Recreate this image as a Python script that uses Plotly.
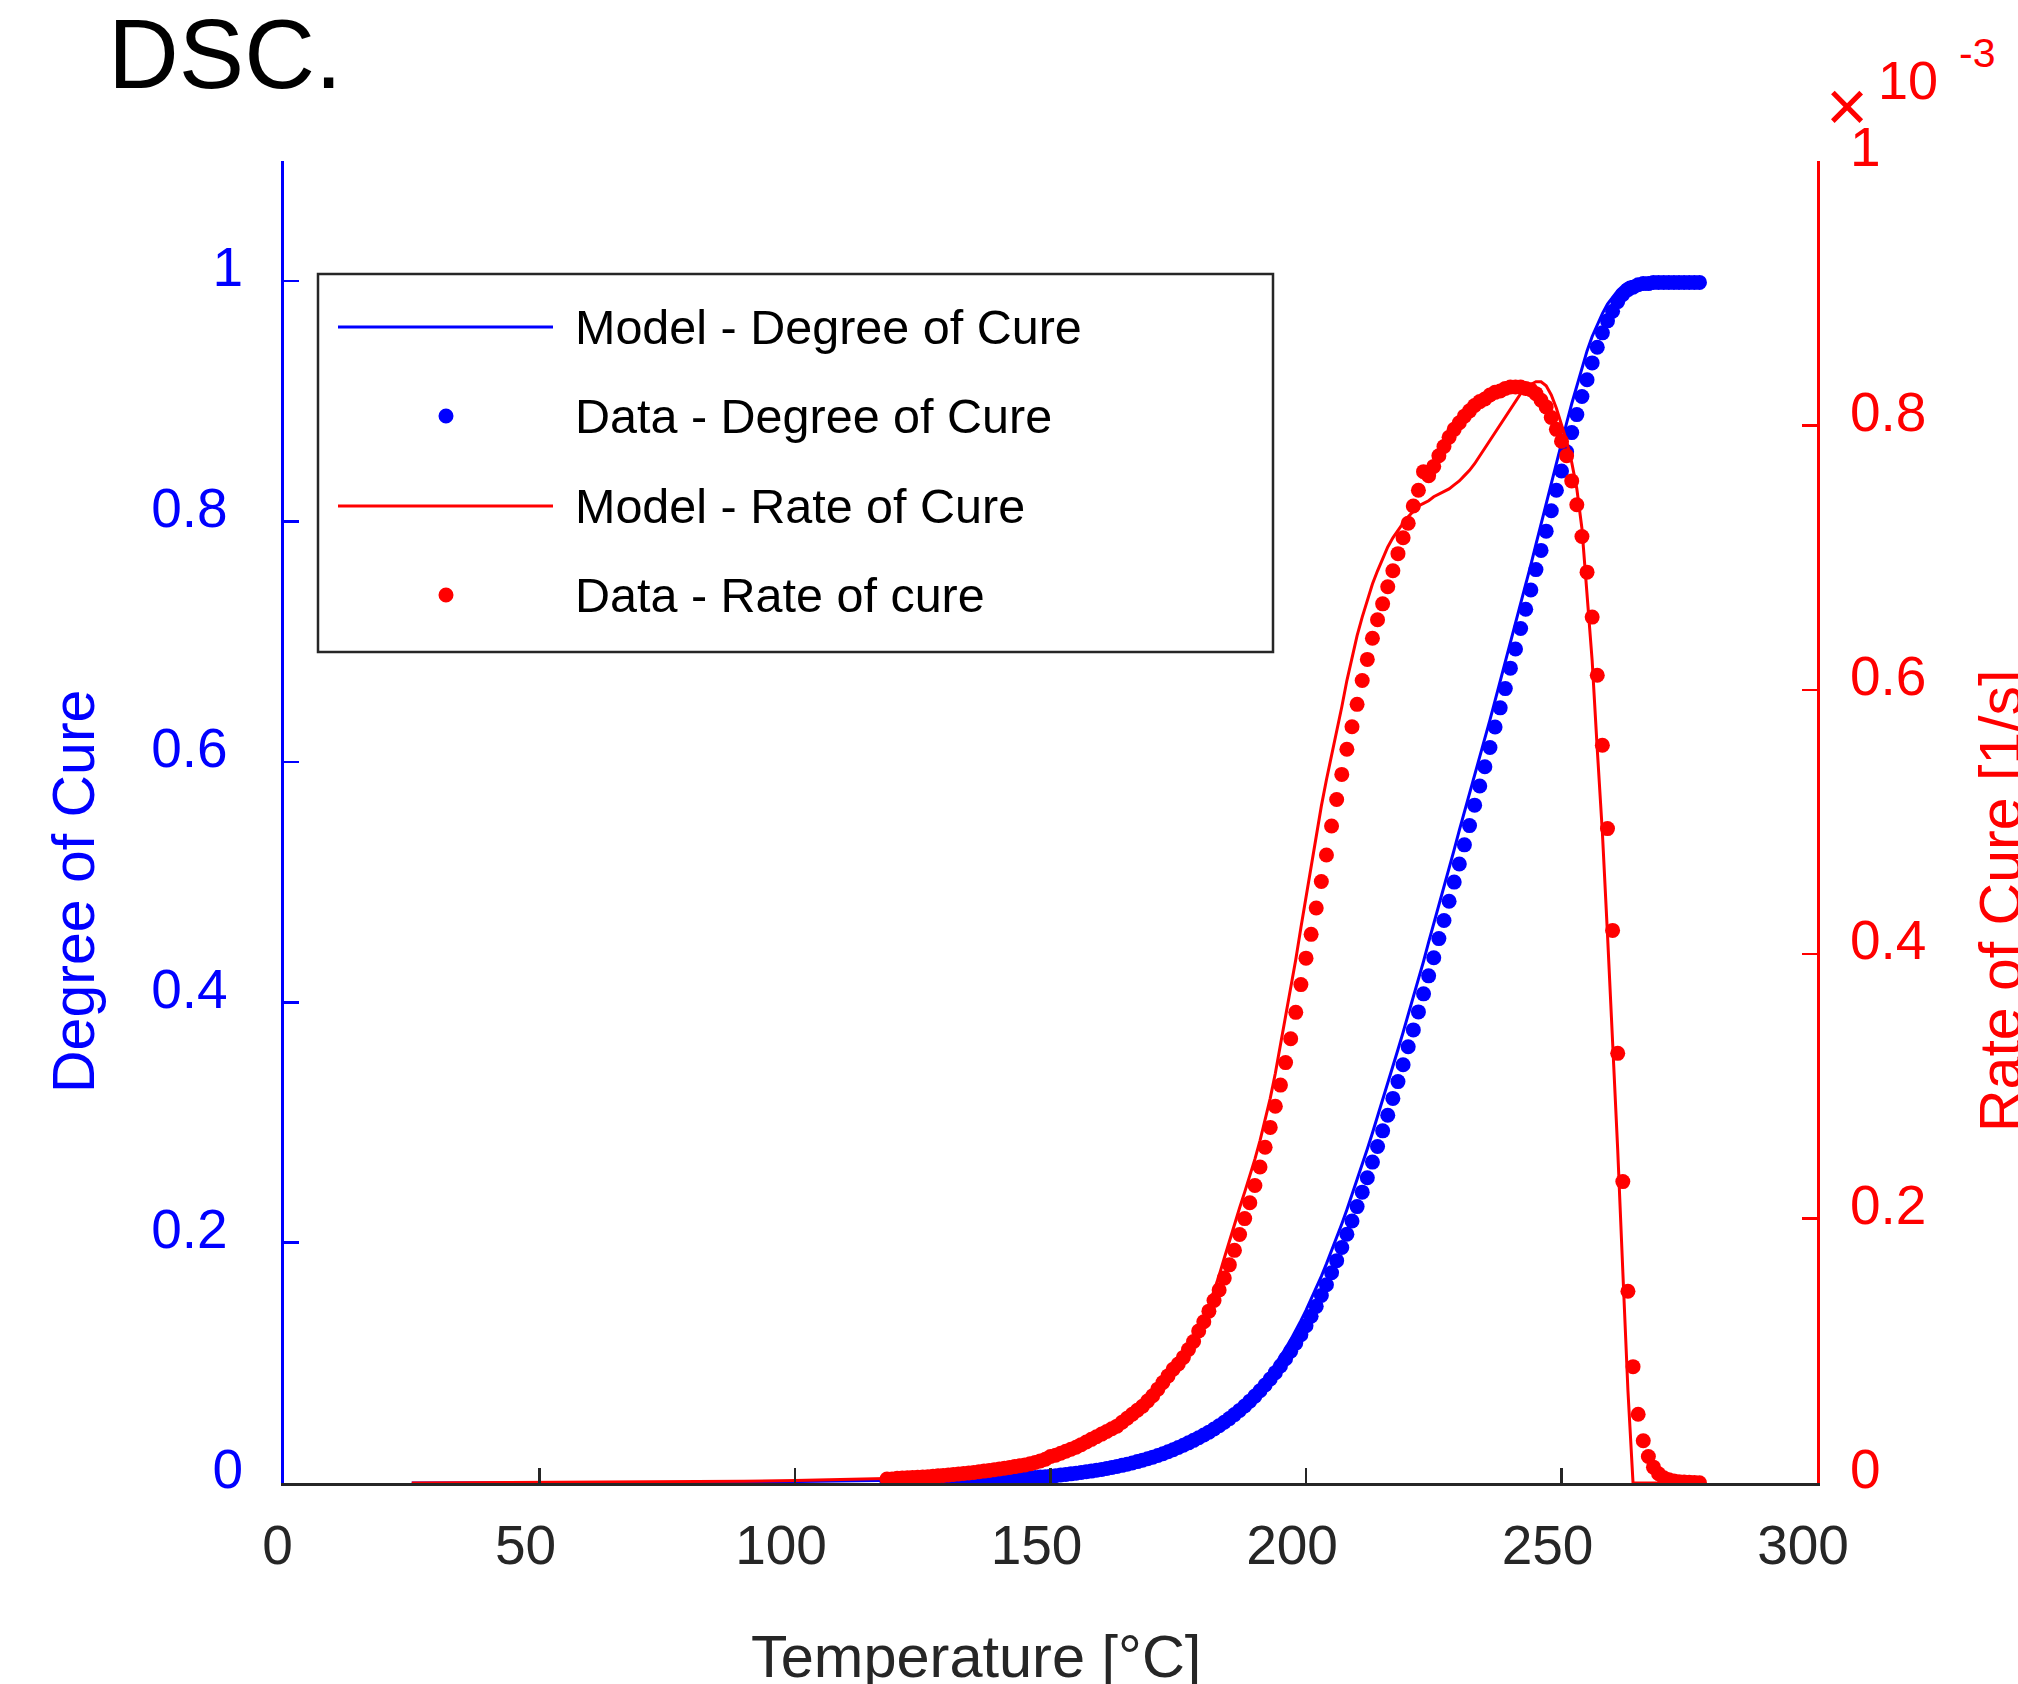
import plotly.graph_objects as go

# ---------------- data ----------------
# measured DSC points, one every ~1 degC
data_temp = [118, 119, 120, 121, 122, 123, 124, 125, 126, 127, 128, 129, 130, 131, 132, 133, 134, 135, 136, 137,
             138, 139, 140, 141, 142, 143, 144, 145, 146, 147, 148, 149, 150, 151, 152, 153, 154, 155, 156, 157,
             158, 159, 160, 161, 162, 163, 164, 165, 166, 167, 168, 169, 170, 171, 172, 173, 174, 175, 176, 177,
             178, 179, 180, 181, 182, 183, 184, 185, 186, 187, 188, 189, 190, 191, 192, 193, 194, 195, 196, 197,
             198, 199, 200, 201, 202, 203, 204, 205, 206, 207, 208, 209, 210, 211, 212, 213, 214, 215, 216, 217,
             218, 219, 220, 221, 222, 223, 224, 225, 226, 227, 228, 229, 230, 231, 232, 233, 234, 235, 236, 237,
             238, 239, 240, 241, 242, 243, 244, 245, 246, 247, 248, 249, 250, 251, 252, 253, 254, 255, 256, 257,
             258, 259, 260, 261, 262, 263, 264, 265, 266, 267, 268, 269, 270, 271, 272, 273, 274, 275, 276, 277]

data_degree = [0.0000, 0.0001, 0.0002, 0.0003, 0.0004, 0.0005, 0.0006, 0.0007, 0.0008, 0.0009,
               0.0010, 0.0011, 0.0012, 0.0013, 0.0014, 0.0015, 0.0017, 0.0018, 0.0020, 0.0022,
               0.0024, 0.0026, 0.0028, 0.0030, 0.0032, 0.0034, 0.0037, 0.0040, 0.0043, 0.0046,
               0.0049, 0.0053, 0.0057, 0.0061, 0.0066, 0.0071, 0.0076, 0.0081, 0.0087, 0.0093,
               0.0099, 0.0106, 0.0113, 0.0121, 0.0129, 0.0138, 0.0147, 0.0157, 0.0167, 0.0178,
               0.0190, 0.0202, 0.0215, 0.0229, 0.0244, 0.0260, 0.0277, 0.0295, 0.0314, 0.0334,
               0.0355, 0.0376, 0.0399, 0.0423, 0.0449, 0.0476, 0.0505, 0.0536, 0.0569, 0.0604,
               0.0641, 0.0681, 0.0723, 0.0768, 0.0815, 0.0865, 0.0918, 0.0974, 0.1034, 0.1097,
               0.1164, 0.1234, 0.1309, 0.1388, 0.147, 0.156, 0.165, 0.175, 0.185, 0.196,
               0.207, 0.218, 0.230, 0.242, 0.254, 0.267, 0.280, 0.293, 0.306, 0.320,
               0.334, 0.348, 0.363, 0.377, 0.392, 0.407, 0.422, 0.437, 0.453, 0.468,
               0.484, 0.500, 0.515, 0.531, 0.547, 0.564, 0.580, 0.596, 0.612, 0.629,
               0.645, 0.661, 0.678, 0.694, 0.711, 0.727, 0.743, 0.760, 0.776, 0.792,
               0.809, 0.826, 0.842, 0.858, 0.874, 0.889, 0.904, 0.918, 0.932, 0.945,
               0.957, 0.967, 0.975, 0.983, 0.989, 0.993, 0.995, 0.997, 0.998, 0.998,
               0.999, 0.999, 0.999, 0.999, 0.999, 0.999, 0.999, 0.999, 0.999, 0.999]

# rate of cure, in units of 1e-3 1/s
data_rate = [0.0030, 0.0030, 0.0035, 0.0037, 0.0039, 0.0041, 0.0043, 0.0045, 0.0048, 0.0051,
             0.0054, 0.0057, 0.0060, 0.0064, 0.0068, 0.0072, 0.0076, 0.0080, 0.0085, 0.0090,
             0.0095, 0.0100, 0.0106, 0.0112, 0.0118, 0.0124, 0.0130, 0.0137, 0.0145, 0.0155,
             0.0167, 0.0180, 0.0200, 0.0210, 0.0225, 0.0240, 0.0255, 0.0270, 0.0290, 0.0310,
             0.0330, 0.0350, 0.0370, 0.0390, 0.0410, 0.0430, 0.0460, 0.0490, 0.0520, 0.0550,
             0.0580, 0.0620, 0.0660, 0.0710, 0.0760, 0.0810, 0.0860, 0.0900, 0.0950, 0.1010,
             0.1070, 0.1150, 0.1220, 0.1300, 0.1380, 0.1460, 0.1550, 0.1650, 0.1760, 0.1880,
             0.2000, 0.2120, 0.2250, 0.2390, 0.2540, 0.2690, 0.2850, 0.3010, 0.3180, 0.3360,
             0.3560, 0.3770, 0.3970, 0.4150, 0.4350, 0.4550, 0.4750, 0.4970, 0.5170, 0.5360,
             0.5550, 0.5720, 0.5890, 0.6070, 0.6230, 0.6390, 0.6530, 0.6650, 0.6780, 0.6900,
             0.7030, 0.7150, 0.7260, 0.7390, 0.7510, 0.7650, 0.7620, 0.7690, 0.7770, 0.7840,
             0.7910, 0.7970, 0.8020, 0.8070, 0.8110, 0.8150, 0.8180, 0.8200, 0.8230, 0.8250,
             0.8260, 0.8280, 0.8290, 0.8290, 0.8290, 0.8280, 0.8270, 0.8240, 0.8190, 0.8140,
             0.8060, 0.7970, 0.7880, 0.7770, 0.7580, 0.7400, 0.7160, 0.6890, 0.6550, 0.6110,
             0.5580, 0.4950, 0.4180, 0.3250, 0.2280, 0.1450, 0.0880, 0.0520, 0.0320, 0.0200,
             0.0120, 0.0070, 0.0040, 0.0025, 0.0015, 0.0010, 0.0007, 0.0005, 0.0003, 0.0002]

# fitted kinetic model
model_temp = [25, 30, 40, 50, 60, 70, 80, 90, 100, 110, 120, 130, 140, 150, 155, 160, 165, 170, 175, 178,
              180, 181, 182, 183, 184, 185, 186, 187, 188, 189, 190, 191, 192, 193, 194, 195, 196, 197, 198, 199,
              200, 201, 202, 203, 204, 205, 206, 207, 208, 209, 210, 211, 212, 213, 214, 215, 216, 217, 218, 219,
              220, 221, 222, 223, 224, 225, 226, 227, 228, 229, 230, 231, 232, 233, 234, 235, 236, 237, 238, 239,
              240, 241, 242, 243, 244, 245, 246, 247, 248, 249, 250, 251, 252, 253, 254, 255, 256, 257, 258, 259,
              260, 261, 262, 263, 264, 265, 270, 278]

model_degree = [0.0000, 0.0000, 0.0000, 0.0001, 0.0002, 0.0003, 0.0005, 0.0007, 0.0010, 0.0015,
                0.0022, 0.0031, 0.0047, 0.0076, 0.0098, 0.0128, 0.0168, 0.0222, 0.0295, 0.0350,
                0.0400, 0.0426, 0.0454, 0.0485, 0.0518, 0.0554, 0.0592, 0.0632, 0.0675, 0.0720,
                0.0768, 0.0818, 0.0871, 0.0927, 0.0987, 0.1051, 0.1119, 0.1191, 0.1268, 0.1350,
                0.1436, 0.1526, 0.1621, 0.1720, 0.1823, 0.1930, 0.2041, 0.2155, 0.2273, 0.2395,
                0.2520, 0.2648, 0.2779, 0.2912, 0.3048, 0.3185, 0.3324, 0.3465, 0.3607, 0.3750,
                0.3894, 0.4040, 0.4190, 0.4340, 0.4500, 0.4650, 0.4810, 0.4960, 0.5120, 0.5270,
                0.5430, 0.5580, 0.5740, 0.5890, 0.6040, 0.6200, 0.6350, 0.6510, 0.6670, 0.6820,
                0.6980, 0.7140, 0.7300, 0.7470, 0.7640, 0.7810, 0.7980, 0.8160, 0.8330, 0.8500,
                0.8660, 0.8820, 0.8980, 0.9130, 0.9280, 0.9420, 0.9540, 0.9640, 0.9730, 0.9810,
                0.9870, 0.9920, 0.9960, 0.9990, 1.0000, 1.0000, 1.0000, 1.0000]

model_rate = [0.0000, 0.0001, 0.0002, 0.0003, 0.0005, 0.0007, 0.0010, 0.0014, 0.0019, 0.0026,
              0.0036, 0.0060, 0.0105, 0.0190, 0.0260, 0.0350, 0.0470, 0.0630, 0.0880, 0.1080,
              0.1240, 0.1340, 0.1450, 0.1570, 0.1700, 0.1830, 0.1960, 0.2080, 0.2200, 0.2320,
              0.2450, 0.2590, 0.2740, 0.2910, 0.3100, 0.3310, 0.3530, 0.3740, 0.3960, 0.4200,
              0.4430, 0.4670, 0.4910, 0.5120, 0.5320, 0.5500, 0.5670, 0.5870, 0.6070, 0.6250,
              0.6410, 0.6550, 0.6680, 0.6800, 0.6900, 0.6990, 0.7080, 0.7150, 0.7210, 0.7260,
              0.7310, 0.7350, 0.7390, 0.7410, 0.7430, 0.7460, 0.7480, 0.7500, 0.7520, 0.7550,
              0.7580, 0.7620, 0.7660, 0.7710, 0.7770, 0.7830, 0.7890, 0.7950, 0.8010, 0.8070,
              0.8130, 0.8190, 0.8240, 0.8280, 0.8310, 0.8330, 0.8330, 0.8300, 0.8230, 0.8130,
              0.8010, 0.7880, 0.7720, 0.7520, 0.7220, 0.6750, 0.6220, 0.5550, 0.4920, 0.4150,
              0.3380, 0.2520, 0.1600, 0.0700, 0.0000, 0.0000, 0.0000, 0.0000]

x_ticks = [0, 50, 100, 150, 200, 250, 300]
x_ticktext = ["0", "50", "100", "150", "200", "250", "300"]
left_ticks = [0, 0.2, 0.4, 0.6, 0.8, 1]
left_ticktext = ["0", "0.2", "0.4", "0.6", "0.8", "1"]
right_ticks = [0, 0.2, 0.4, 0.6, 0.8, 1]
right_ticktext = ["0", "0.2", "0.4", "0.6", "0.8", "1"]

legend_labels = ["Model - Degree of Cure", "Data - Degree of Cure",
                 "Model - Rate of Cure", "Data - Rate of cure"]

# ---------------- styling ----------------
W, H = 2018, 1684
PL, PR, PT, PB = 284, 1817, 161, 1483   # plot-area edges in px
BLUE, RED, GRAY, BLACK = "#0000FF", "#FF0000", "#262626", "#000000"
FONT = "Liberation Sans, Arial, Helvetica, sans-serif"
MSIZE = 15
NBSP = "\u00a0"


def px_x(X):
    return (X - PL) / (PR - PL)


def px_y(Y):
    return (PB - Y) / (PB - PT)


# MATLAB places the one-character left labels a little further right than the decimal ones
left_labels_drawn = [t if len(t) == 1 else t + NBSP for t in left_ticktext]
x_labels_drawn = [NBSP + t if len(t) == 1 else t for t in x_ticktext]

fig = go.Figure()
fig.add_trace(go.Scatter(x=model_temp, y=model_degree, mode="lines", name=legend_labels[0],
                         line=dict(color=BLUE, width=3), yaxis="y"))
fig.add_trace(go.Scatter(x=data_temp, y=data_degree, mode="markers", name=legend_labels[1],
                         marker=dict(color=BLUE, size=MSIZE, line=dict(width=0)), yaxis="y"))
fig.add_trace(go.Scatter(x=model_temp, y=model_rate, mode="lines", name=legend_labels[2],
                         line=dict(color=RED, width=3), yaxis="y2"))
fig.add_trace(go.Scatter(x=data_temp, y=data_rate, mode="markers", name=legend_labels[3],
                         marker=dict(color=RED, size=MSIZE, line=dict(width=0)), yaxis="y2"))

fig.update_layout(
    width=W, height=H,
    margin=dict(l=PL, r=W - PR, t=PT, b=H - PB, autoexpand=False),
    paper_bgcolor="white", plot_bgcolor="white",
    showlegend=False,
    font=dict(family=FONT),
    xaxis=dict(range=[0, 300], tickvals=x_ticks, ticktext=x_labels_drawn, ticks="inside", ticklen=15,
               tickwidth=2.5, tickcolor=GRAY, showline=True, linecolor=GRAY, linewidth=3, showgrid=False,
               zeroline=False, tickfont=dict(family=FONT, size=55, color=GRAY),
               ticklabelshift=-14, ticklabelstandoff=12, automargin=False, fixedrange=True),
    yaxis=dict(range=[0, 1.1], tickvals=left_ticks, ticktext=left_labels_drawn, ticks="inside",
               ticklen=15, tickwidth=2.5, tickcolor=BLUE, showline=True, linecolor=BLUE, linewidth=3,
               showgrid=False, zeroline=False, tickfont=dict(family=FONT, size=55, color=BLUE),
               ticklabelshift=-14, ticklabelstandoff=27, automargin=False, fixedrange=True),
    yaxis2=dict(range=[0, 1.0], tickvals=right_ticks, ticktext=right_ticktext, overlaying="y",
                side="right", ticks="inside", ticklen=15, tickwidth=2.5, tickcolor=RED,
                showline=True, linecolor=RED, linewidth=3, showgrid=False, zeroline=False,
                tickfont=dict(family=FONT, size=55, color=RED), ticklabelshift=-14,
                ticklabelstandoff=19, automargin=False, fixedrange=True),
)

annotations = [
    dict(text="DSC.", x=px_x(106), y=px_y(54), xanchor="left", yanchor="middle",
         font=dict(size=98, color=BLACK)),
    dict(text="Degree of Cure", x=px_x(74), y=px_y(892), textangle=-90,
         xanchor="center", yanchor="middle", font=dict(size=59, color=BLUE)),
    dict(text="Rate of Cure [1/s]", x=px_x(2001), y=px_y(901), textangle=-90,
         xanchor="center", yanchor="middle", font=dict(size=59, color=RED)),
    dict(text="Temperature [°C]", x=px_x(976), y=px_y(1656), xanchor="center", yanchor="middle",
         font=dict(size=59.5, color=GRAY)),
    dict(text="×", x=px_x(1846.5), y=px_y(106), xanchor="center", yanchor="middle",
         font=dict(size=72, color=RED)),
    dict(text="10", x=px_x(1908), y=px_y(79.6), xanchor="center", yanchor="middle",
         font=dict(size=54, color=RED)),
    dict(text="-3", x=px_x(1977), y=px_y(52.5), xanchor="center", yanchor="middle",
         font=dict(size=41, color=RED)),
]

# ---------------- legend (boxed, MATLAB-style) ----------------
shapes = [dict(type="rect", xref="paper", yref="paper", x0=px_x(318), x1=px_x(1273),
               y0=px_y(652), y1=px_y(274), line=dict(color=GRAY, width=2.5),
               fillcolor="white", layer="above")]
rows = [327, 416, 506, 595]
legend_styles = [("line", BLUE), ("dot", BLUE), ("line", RED), ("dot", RED)]
for ry, (kind, col), lab in zip(rows, legend_styles, legend_labels):
    if kind == "line":
        shapes.append(dict(type="line", xref="paper", yref="paper", x0=px_x(338), x1=px_x(553),
                           y0=px_y(ry), y1=px_y(ry), line=dict(color=col, width=3), layer="above"))
    else:
        r = MSIZE / 2
        shapes.append(dict(type="circle", xref="paper", yref="paper",
                           x0=px_x(446 - r), x1=px_x(446 + r), y0=px_y(ry + r), y1=px_y(ry - r),
                           line=dict(width=0), fillcolor=col, layer="above"))
    annotations.append(dict(text=lab, x=px_x(573), y=px_y(ry), xanchor="left", yanchor="middle",
                            font=dict(size=48.5, color=BLACK)))

for a in annotations:
    a.update(xref="paper", yref="paper", showarrow=False)
fig.update_layout(annotations=annotations, shapes=shapes)

fig.write_html(
    "out.html",
    config={"displayModeBar": False, "staticPlot": True},
    post_script=("document.body.style.margin='0px';document.body.style.padding='0px';"
                 "document.documentElement.style.overflow='hidden';"),
)
